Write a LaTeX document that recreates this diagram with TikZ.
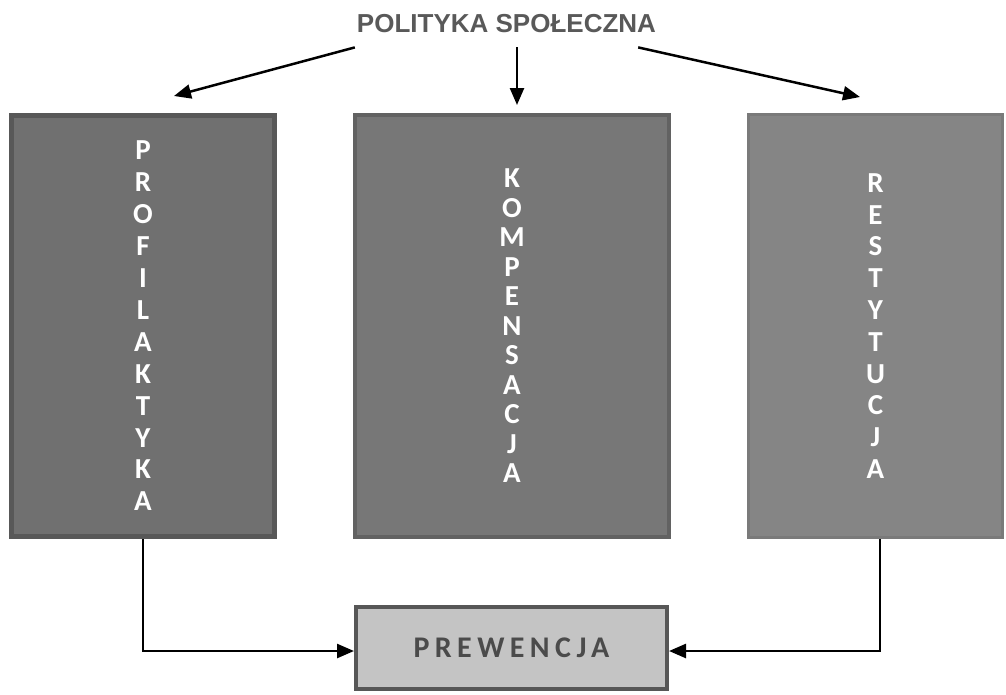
\documentclass[tikz,border=0pt]{standalone}
\usepackage{fontspec}
\usepackage{tikz}
\usetikzlibrary{arrows.meta, positioning}
\newfontfamily\headfont{Liberation Sans}
\newfontfamily\boxfont{Carlito}
\definecolor{headgray}{HTML}{595959}
\definecolor{proffill}{HTML}{707070}
\definecolor{profline}{HTML}{585858}
\definecolor{kompfill}{HTML}{777777}
\definecolor{kompline}{HTML}{626262}
\definecolor{restfill}{HTML}{858585}
\definecolor{restline}{HTML}{7A7A7A}
\definecolor{prewfill}{HTML}{C4C4C4}
\definecolor{prewline}{HTML}{575757}
\definecolor{prewtext}{HTML}{4B4B4B}

\begin{document}
\begin{tikzpicture}[
    x=1pt, y=-1pt,
    pillar/.style={rectangle, draw, align=center, text=white, inner sep=0pt},
    arrow/.style={-{Triangle[length=17pt, width=14pt]}, line width=2.5pt}
]
\useasboundingbox (0,0) rectangle (1006,694);
\node[inner sep=0pt, text=headgray, font=\headfont\bfseries\fontsize{26}{30}\selectfont] (title) at (506.5,24) {POLITYKA SPOŁECZNA};
\node[pillar, fill=kompfill, draw=kompline, line width=4pt, minimum width=314pt, minimum height=422pt,
      font=\boxfont\bfseries\fontsize{29}{29.5}\selectfont] (komp) at (512,326)
      {K\\O\\M\\P\\E\\N\\S\\A\\C\\J\\A};
\node[pillar, fill=proffill, draw=profline, line width=5pt, minimum width=263pt, minimum height=421pt,
      font=\boxfont\bfseries\fontsize{29}{31.9}\selectfont, left=76pt of komp] (prof)
      {P\\R\\O\\F\\I\\L\\A\\K\\T\\Y\\K\\A};
\node[pillar, fill=restfill, draw=restline, line width=3pt, minimum width=254pt, minimum height=423pt,
      font=\boxfont\bfseries\fontsize{29}{31.8}\selectfont, right=76pt of komp] (rest)
      {R\\E\\S\\T\\Y\\T\\U\\C\\J\\A};
\node[rectangle, draw=prewline, fill=prewfill, line width=4pt, minimum width=311pt, minimum height=82pt,
      text=prewtext, font=\boxfont\bfseries\fontsize{30}{32}\selectfont] (prew) at (511.5,648)
      {\addfontfeature{LetterSpace=18}PREWENCJA};
\draw[arrow] ([shift={(-2pt,-14pt)}]title.south west) -- ([shift={(31pt,17pt)}]prof.north);
\draw[arrow] ([shift={(10.5pt,-14pt)}]title.south) -- ([shift={(5pt,8pt)}]komp.north);
\draw[arrow] ([shift={(-18pt,-14pt)}]title.south east) -- ([shift={(-15.5pt,16pt)}]rest.north);
\draw[arrow] (prof.south) |- ([yshift=-3pt]prew.west);
\draw[arrow] ([xshift=4.5pt]rest.south) |- ([yshift=-3pt]prew.east);
\end{tikzpicture}
\end{document}
